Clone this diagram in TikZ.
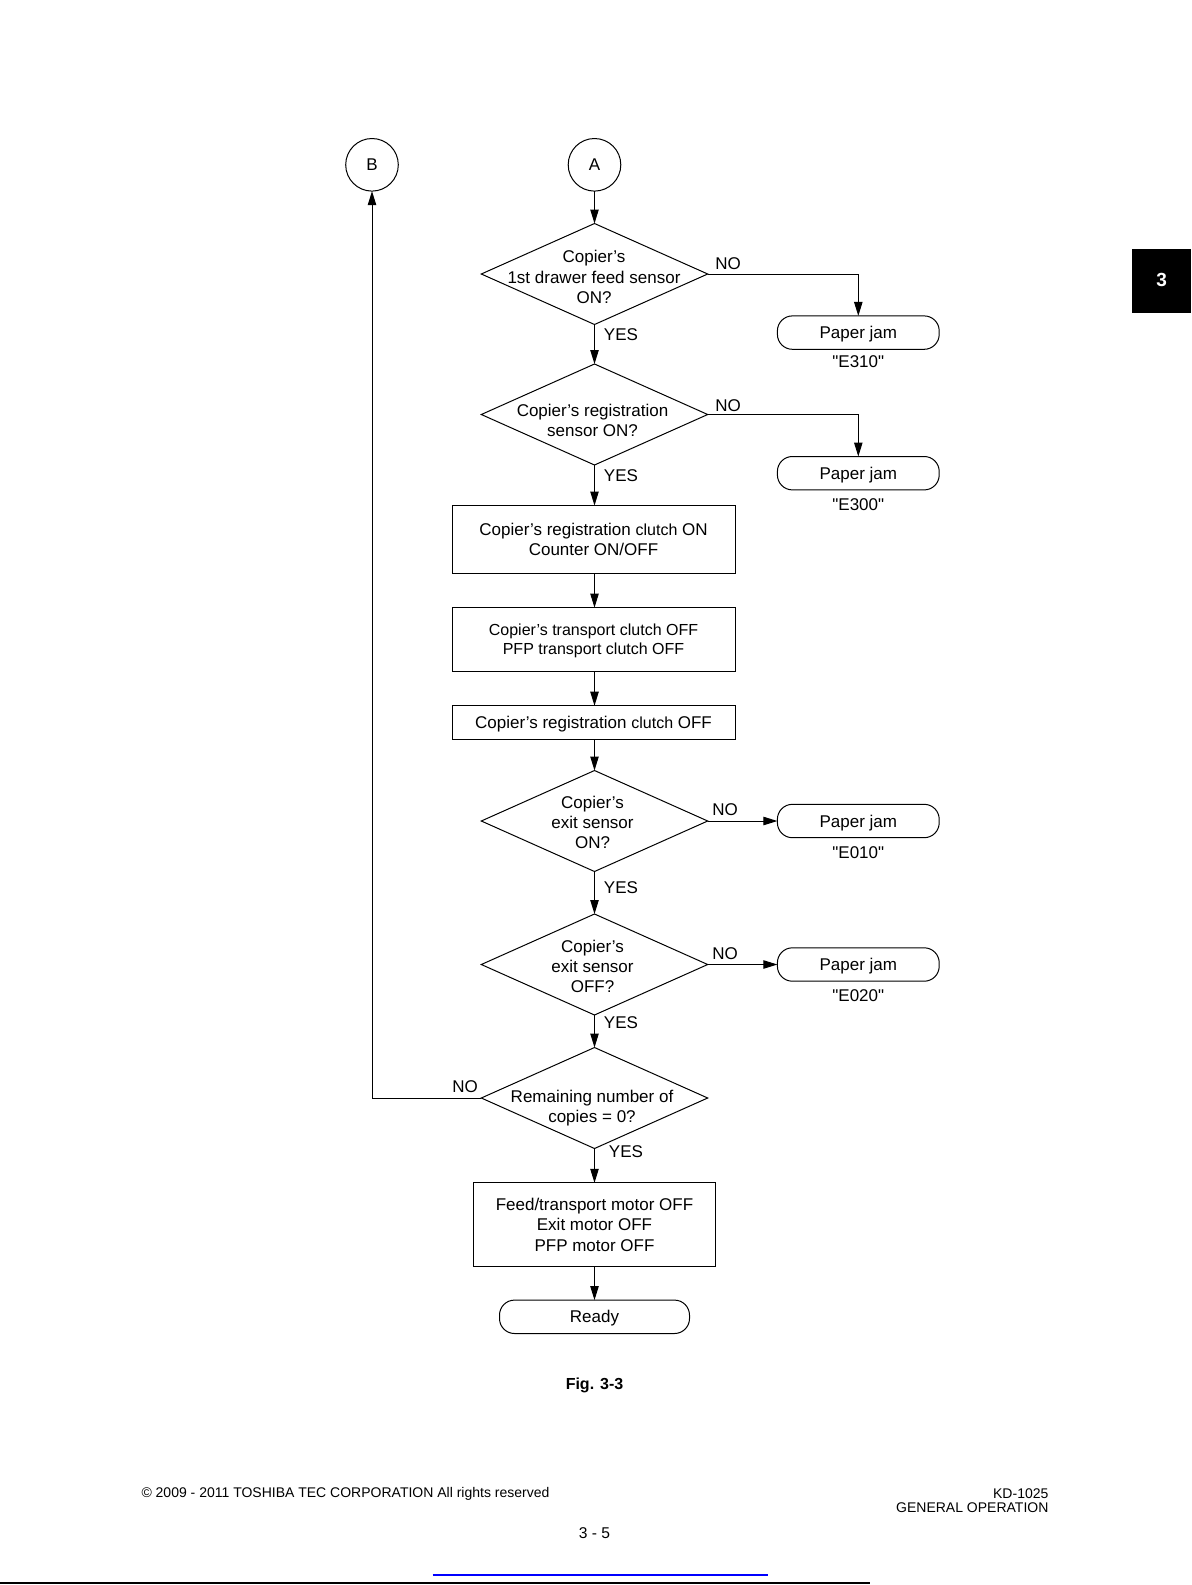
\documentclass[tikz,border=0pt]{standalone}
\usepackage{fontspec}
\setmainfont{Liberation Sans}[Ligatures=TeXOff]
\usetikzlibrary{shapes.geometric,arrows.meta}
\begin{document}
\begin{tikzpicture}[x=0.5pt,y=-0.5pt,
  every node/.style={font=\fontsize{8.5}{10.1}\selectfont, inner sep=0pt, outer sep=0pt, text depth=0pt},
  ln/.style={line width=0.5pt},
  arr/.style={ln, -{Triangle[length=7pt,width=4.2pt]}},
  dia/.style={draw, ln, diamond, minimum width=113.2pt, minimum height=50.5pt},
  conn/.style={draw, ln, circle, minimum size=26.3pt},
  jam/.style={draw, ln, rectangle, rounded corners=7.5pt, minimum width=80.9pt, minimum height=16.7pt},
  proc/.style={draw, ln, rectangle, minimum width=141.5pt, align=center},
  txt/.style={align=center},
  lbl/.style={font=\fontsize{8.5}{10.1}\selectfont}
]
\useasboundingbox (0,0) rectangle (1191,1585);
\fill[white] (0,0) rectangle (1191,1585);

% connectors A and B
\node[conn] (B) at (372,164.8) {B};
\node[conn] (A) at (594.5,164.8) {A};

% decision 1
\node[dia] (d1) at (594.5,274) {};
\node[txt] (t1) at (594,277) {Copier’s\\1st drawer feed sensor\\ON?};
\node[jam] (j1) at (858.3,332.6) {Paper jam};
\node (e1) at (858.3,362) {"E310"};
\node[lbl] (no1) at (728,264) {NO};
\node[lbl] (yes1) at (621,334.6) {YES};

% decision 2
\node[dia] (d2) at (594.5,414.5) {};
\node[txt] (t2) at (592.5,420) {Copier’s registration\\sensor ON?};
\node[jam] (j2) at (858.3,473.2) {Paper jam};
\node (e2) at (858.3,504.5) {"E300"};
\node[lbl] (no2) at (728,405.4) {NO};
\node[lbl] (yes2) at (621,475.2) {YES};

% process boxes
\node[proc, minimum height=33.9pt, text depth=-2pt] (p1) at (593.5,539.4) {Copier’s registration {\fontsize{8}{10.1}\selectfont clutch} ON\\Counter ON/OFF};
\node[proc, minimum height=31.9pt, font=\fontsize{8}{9.6}\selectfont] (p2) at (593.5,639.5) {Copier’s transport clutch OFF\\PFP transport clutch OFF};
\node[proc, minimum height=16.7pt] (p3) at (593.5,722.4) {Copier’s registration {\fontsize{8}{10.1}\selectfont clutch} OFF};

% decision 3
\node[dia] (d3) at (594.5,821) {};
\node[txt] (t3) at (592.5,822.5) {Copier’s\\exit sensor\\ON?};
\node[jam] (j3) at (858.3,821) {Paper jam};
\node (e3) at (858.3,852.3) {"E010"};
\node[lbl] (no3) at (725,809.8) {NO};
\node[lbl] (yes3) at (621,887.6) {YES};

% decision 4
\node[dia] (d4) at (594.5,964.5) {};
\node[txt] (t4) at (592.5,966.5) {Copier’s\\exit sensor\\OFF?};
\node[jam] (j4) at (858.3,964.5) {Paper jam};
\node (e4) at (858.3,995.8) {"E020"};
\node[lbl] (no4) at (725,953.4) {NO};
\node[lbl] (yes4) at (621,1023) {YES};

% decision 5
\node[dia] (d5) at (594.5,1098) {};
\node[txt] (t5) at (592,1106) {Remaining number of\\copies = 0?};
\node[lbl] (no5) at (465,1087) {NO};
\node[lbl] (yes5) at (626,1151.5) {YES};

% final
\node[proc, minimum width=121.3pt, minimum height=42pt] (p4) at (594.5,1224.8) {Feed/transport motor OFF\\Exit motor OFF\\PFP motor OFF};
\node[jam, minimum width=95pt] (ready) at (594.5,1316.8) {Ready};

% connectors
\draw[arr] (A.south) -- (d1.north);
\draw[arr] (d1.east) -| (j1.north);
\draw[arr] (d1.south) -- (d2.north);
\draw[arr] (d2.east) -| (j2.north);
\draw[arr] (d2.south) -- (p1.north -| d2.south);
\draw[arr] (p1.south -| d2.south) -- (p2.north -| d2.south);
\draw[arr] (p2.south -| d2.south) -- (p3.north -| d2.south);
\draw[arr] (p3.south -| d3.north) -- (d3.north);
\draw[arr] (d3.east) -- (j3.west);
\draw[arr] (d3.south) -- (d4.north);
\draw[arr] (d4.east) -- (j4.west);
\draw[arr] (d4.south) -- (d5.north);
\draw[arr] (d5.west) -| (B.south);
\draw[arr] (d5.south) -- (p4.north);
\draw[arr] (p4.south) -- (ready.north);

% caption
\node[font=\fontsize{8}{9.6}\selectfont\bfseries] (fig) at (594.5,1384) {Fig. 3-3};

% chapter tab
\fill[black] (1132.3,248.7) rectangle (1191,313.4);
\node[text=white, font=\fontsize{9.5}{11}\selectfont\bfseries] (tab) at (1161.7,280) {3};

% footer
\node[anchor=west, font=\fontsize{7}{8.4}\selectfont] (copy) at (141.5,1492) {© 2009 - 2011 TOSHIBA TEC CORPORATION All rights reserved};
\node[anchor=east, font=\fontsize{7}{8.4}\selectfont] (kd) at (1048.4,1494) {KD-1025};
\node[anchor=east, font=\fontsize{7}{8.4}\selectfont] (gen) at (1048.4,1507.4) {GENERAL OPERATION};
\node[font=\fontsize{7.8}{9}\selectfont] (pg) at (594.5,1532.7) {3 - 5};
\draw[blue, line width=0.6pt] (432.7,1575) -- (768.4,1575);
\draw[black, line width=1.2pt] (0,1583) -- (870,1583);
\end{tikzpicture}
\end{document}
